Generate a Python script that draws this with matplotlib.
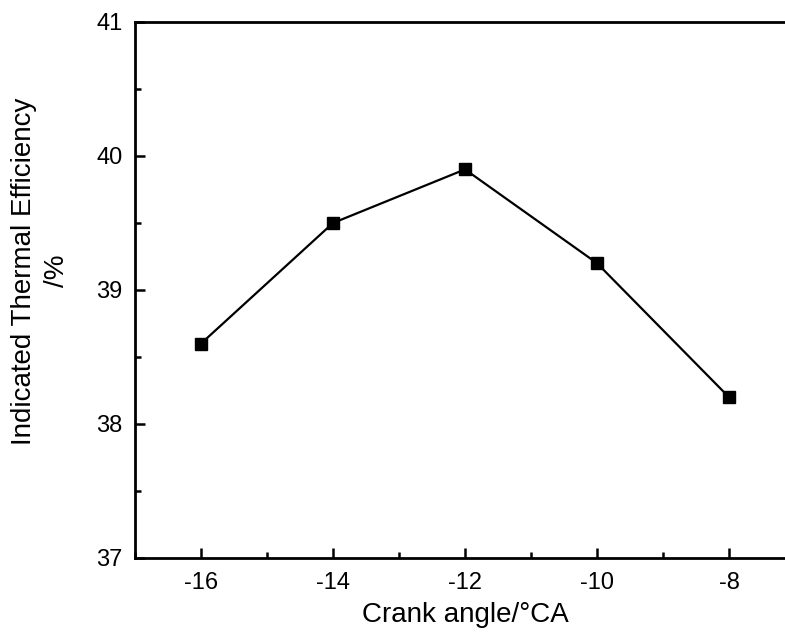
import matplotlib
matplotlib.use("Agg")
import matplotlib.pyplot as plt
from matplotlib.ticker import MultipleLocator

plt.rcParams['font.family'] = ['Liberation Sans', 'DejaVu Sans']
plt.rcParams['axes.unicode_minus'] = False

# data
crank_angle = [-16, -14, -12, -10, -8]
efficiency = [38.6, 39.5, 39.9, 39.2, 38.2]
x_ticks = [-16, -14, -12, -10, -8]
y_ticks = [37, 38, 39, 40, 41]

fig = plt.figure(figsize=(7.85, 6.34), dpi=100)
# axes run past the right edge of the picture, as in the reference
ax = fig.add_axes([135 / 785, 1 - 558 / 634, 660 / 785, 536 / 634])

ax.plot(crank_angle, efficiency, color='black', lw=1.6,
        marker='s', markersize=8.5, markerfacecolor='black')

ax.set_xlim(-17, -7)
ax.set_ylim(37, 41)
ax.set_xticks(x_ticks)
ax.set_yticks(y_ticks)
ax.xaxis.set_minor_locator(MultipleLocator(1))
ax.yaxis.set_minor_locator(MultipleLocator(0.5))

ax.tick_params(which='both', direction='in', width=1.8, labelsize=17,
               top=False, right=False)
ax.tick_params(which='major', length=7)
ax.tick_params(axis='y', which='major', pad=9)
ax.tick_params(axis='x', which='major', pad=10)
ax.tick_params(which='minor', length=4)

for s in ax.spines.values():
    s.set_linewidth(2)

# keep the x label just inside the bottom edge
ax.set_xlabel('Crank angle/°CA', fontsize=20, labelpad=6)
ax.set_ylabel('Indicated Thermal Efficiency\n/%', fontsize=20,
              linespacing=1.35)
ax.yaxis.set_label_coords(-0.099, 0.535)

fig.savefig('out.png', dpi=100)
